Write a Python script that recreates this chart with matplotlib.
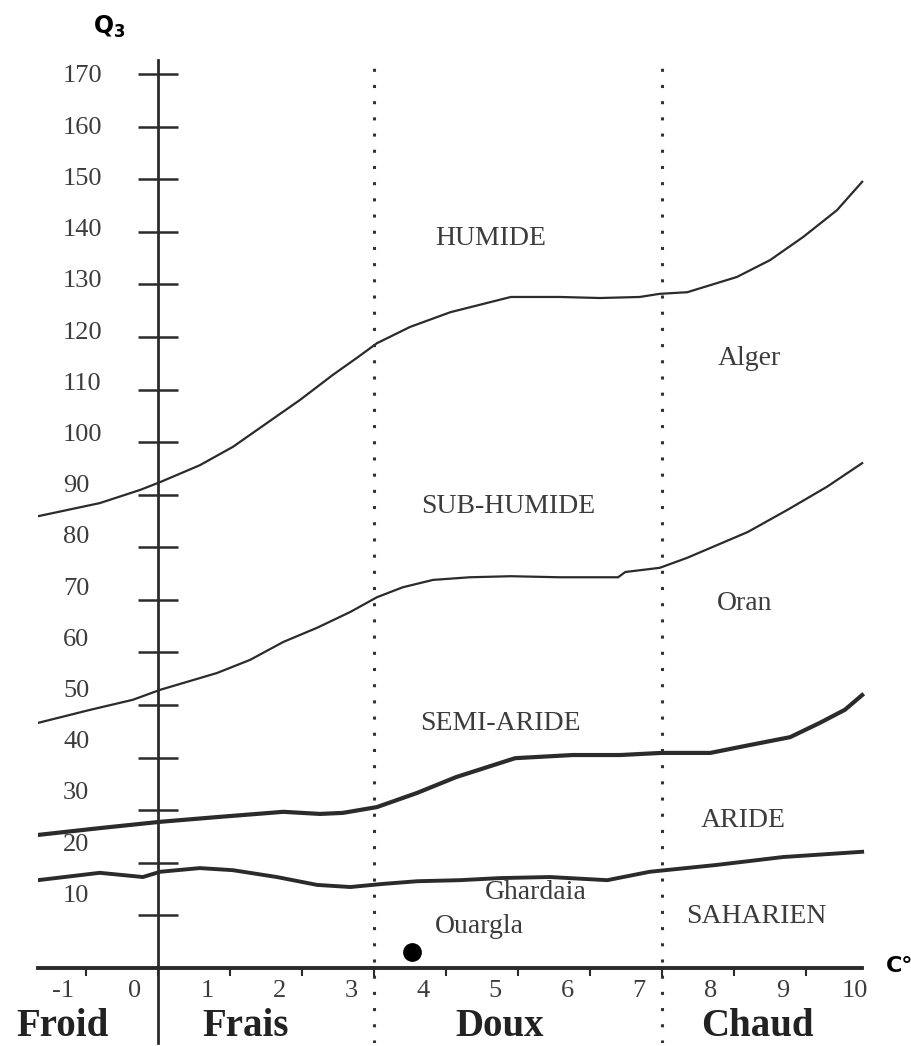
import numpy as np
import matplotlib.pyplot as plt
from matplotlib.transforms import ScaledTranslation

plt.rcParams['font.family'] = ['Liberation Serif', 'DejaVu Serif']
plt.rcParams['mathtext.fontset'] = 'dejavusans'

# limites des etages bioclimatiques (m en C°, Q3)
m_humide = [-1.67, -0.81, -0.25, 0.03, 0.58, 1.04, 1.51, 1.97, 2.43, 2.76, 3.04, 3.5,
            4.06, 4.9, 5.58, 6.14, 6.69, 6.97, 7.35, 8.04, 8.5, 8.96, 9.43, 9.78]
q_humide = [85.9, 88.4, 90.9, 92.4, 95.6, 99.1, 103.6, 108.0, 112.8, 116.0, 118.8, 121.9,
            124.7, 127.6, 127.6, 127.4, 127.6, 128.2, 128.5, 131.4, 134.6, 139.0, 144.1, 149.5]

m_subhumide = [-1.67, -0.94, -0.35, 0.03, 0.82, 1.28, 1.74, 2.21, 2.67, 3.04, 3.4, 3.82,
               4.33, 4.9, 5.58, 6.39, 6.49, 6.97, 7.35, 8.19, 8.74, 9.29, 9.78]
q_subhumide = [46.6, 49.1, 51.0, 52.9, 56.1, 58.6, 62.0, 64.7, 67.7, 70.5, 72.4, 73.8,
               74.3, 74.5, 74.3, 74.3, 75.3, 76.1, 78.0, 82.9, 87.1, 91.5, 96.0]

m_semiaride = [-1.67, -0.81, 0.03, 0.82, 1.74, 2.25, 2.57, 3.04, 3.6, 4.14, 4.96, 5.76,
               6.42, 6.99, 7.67, 8.22, 8.78, 9.19, 9.54, 9.78]
q_semiaride = [25.3, 26.6, 27.8, 28.7, 29.7, 29.3, 29.5, 30.6, 33.3, 36.3, 39.9, 40.5,
               40.5, 40.9, 40.9, 42.4, 43.9, 46.6, 49.1, 51.9]

m_aride = [-1.67, -0.81, -0.21, 0.03, 0.58, 1.04, 1.65, 2.21, 2.67, 3.13, 3.6, 4.19,
           4.75, 5.44, 6.24, 6.83, 7.76, 8.68, 9.78]
q_aride = [16.7, 18.1, 17.3, 18.3, 19.0, 18.6, 17.3, 15.8, 15.4, 16.0, 16.5, 16.7,
           17.1, 17.3, 16.7, 18.3, 19.6, 21.1, 22.1]

# station
site_m = [3.53]
site_q3 = [3.0]

x_ticks = [-1, 0, 1, 2, 3, 4, 5, 6, 7, 8, 9, 10]
y_ticks = [10, 20, 30, 40, 50, 60, 70, 80, 90, 100, 110, 120, 130, 140, 150, 160, 170]
class_limits = [3, 7]

ink = '#2b2b2b'
grey = '#3c3c3c'

fig = plt.figure(figsize=(9.12, 10.46), dpi=100)
ax = fig.add_axes([38 / 912, 3 / 1046, 840 / 912, 983 / 1046])
ax.set_xlim(-1.667, 10.0)
ax.set_ylim(-14.26, 172.66)

ax.plot(m_humide, q_humide, color=ink, lw=1.6)
ax.plot(m_subhumide, q_subhumide, color=ink, lw=1.6)
ax.plot(m_semiaride, q_semiaride, color=ink, lw=3.0)
ax.plot(m_aride, q_aride, color=ink, lw=2.8)
ax.plot(site_m, site_q3, 'o', ms=12.5, color='black')

for m in class_limits:
    ax.axvline(m, color='#333333', lw=2.2, linestyle=(0, (1.0, 4.3)))

# axes
ax.spines['top'].set_visible(False)
ax.spines['right'].set_visible(False)
ax.spines['left'].set_position(('data', 0))
ax.spines['left'].set_linewidth(2.0)
ax.spines['left'].set_color(ink)
ax.spines['bottom'].set_position(('data', 0))
ax.spines['bottom'].set_bounds(-1.667, 9.78)
ax.spines['bottom'].set_linewidth(2.8)
ax.spines['bottom'].set_color(ink)

ax.set_xticks(x_ticks)
ax.set_xticklabels([str(t) for t in x_ticks])
ax.set_yticks(y_ticks)
ax.set_yticklabels([str(t) for t in y_ticks])

ax.tick_params(axis='x', direction='out', length=5.8, width=1.5, color=ink,
               pad=3, labelsize=19, labelcolor=grey)
ax.tick_params(axis='y', direction='inout', length=28.8, width=1.8, color=ink,
               pad=54, labelsize=19, labelcolor=grey)

ax.xaxis.get_major_ticks()[-1].tick1line.set_visible(False)
for lbl in ax.get_xticklabels():
    lbl.set_transform(lbl.get_transform() + ScaledTranslation(-0.23, 0, fig.dpi_scale_trans))
for lbl, v in zip(ax.get_yticklabels(), y_ticks):
    lbl.set_horizontalalignment('left')
    lbl.set_transform(lbl.get_transform() +
                      ScaledTranslation(0, 0.001375 * (170 - v), fig.dpi_scale_trans))

# etages
zone_kw = dict(fontsize=20, color=grey, ha='center', va='baseline')
ax.text(4.625, 137.5, 'HUMIDE', **zone_kw)
ax.text(4.86, 86.5, 'SUB-HUMIDE', **zone_kw)
ax.text(4.76, 45.3, 'SEMI-ARIDE', **zone_kw)
ax.text(8.125, 26.8, 'ARIDE', **zone_kw)
ax.text(8.31, 8.6, 'SAHARIEN', **zone_kw)
ax.text(8.21, 114.7, 'Alger', **zone_kw)
ax.text(8.15, 68.1, 'Oran', **zone_kw)
ax.text(5.25, 13.1, 'Ghardaia', **zone_kw)
ax.text(4.47, 6.7, 'Ouargla', **zone_kw)

# classes de temperature
class_kw = dict(fontsize=28, fontweight='bold', color='#222222', ha='center', va='baseline')
ax.text(-1.32, -12.9, 'Froid', **class_kw)
ax.text(1.21, -12.9, 'Frais', **class_kw)
ax.text(4.74, -12.9, 'Doux', **class_kw)
ax.text(8.32, -12.9, 'Chaud', **class_kw)

fig.text(93 / 912, 1 - 27 / 1046, r'$\mathbf{Q_3}$', fontsize=17,
         ha='left', va='center')
fig.text(886 / 912, 1 - 966 / 1046, 'C°', fontsize=16, fontweight='bold',
         family=['DejaVu Sans'], ha='left', va='center')

fig.savefig('out.png', dpi=100)
